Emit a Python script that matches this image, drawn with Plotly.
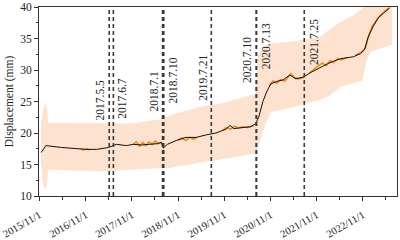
import plotly.graph_objects as go

# ---------------- data ----------------
fit_dates = ["2015-11-15", "2015-12-21", "2016-04-24", "2016-11-07", "2017-01-25", "2017-04-30",
             "2017-07-01", "2017-09-18", "2017-11-12", "2018-01-14", "2018-03-18", "2018-05-20",
             "2018-06-21", "2018-07-05", "2018-08-08", "2018-10-16", "2019-01-02", "2019-03-23",
             "2019-06-10", "2019-08-27", "2019-11-14", "2019-12-16", "2020-01-16", "2020-03-11",
             "2020-05-29", "2020-07-07", "2020-07-31", "2020-09-01", "2020-10-02", "2020-11-03",
             "2020-12-20", "2021-02-05", "2021-04-02", "2021-05-19", "2021-07-21", "2021-09-14",
             "2021-11-08", "2022-01-26", "2022-03-14", "2022-05-08", "2022-08-18", "2022-10-13",
             "2022-11-13", "2022-12-15", "2023-01-23", "2023-03-03", "2023-04-11", "2023-05-29"]
fit_disp = [16.9, 18.0, 17.7, 17.4, 17.4, 17.7,
            18.2, 18.0, 18.2, 18.1, 18.2, 18.3,
            18.5, 17.6, 18.2, 18.8, 19.3, 19.3,
            19.7, 20.0, 20.6, 21.2, 20.7, 20.8,
            21.0, 21.5, 22.6, 25.0, 26.6, 27.8,
            28.2, 28.4, 29.2, 28.6, 28.9, 29.6,
            30.2, 31.0, 31.4, 31.8, 32.1, 32.6,
            33.2, 35.4, 37.0, 38.3, 39.0, 39.8]

meas_dates = ["2016-09-20", "2016-10-15", "2016-11-05", "2016-12-01", None,
              "2017-11-10", "2017-12-05", "2018-01-01", "2018-01-25", "2018-02-20", "2018-03-15",
              "2018-04-10", "2018-05-05", "2018-05-30", "2018-06-25", None,
              "2018-11-01", "2018-12-01", "2019-01-01", "2019-02-01", "2019-03-01", "2019-03-30", None,
              "2019-10-20", "2019-11-20", "2019-12-20", "2020-01-20", "2020-02-20", "2020-03-20",
              "2020-05-01", "2020-06-20", None,
              "2020-10-20", "2020-11-20", "2020-12-20", "2021-01-20", "2021-02-20", "2021-03-20",
              "2021-04-10", "2021-05-10", "2021-06-10", "2021-07-30", None,
              "2021-09-01", "2021-10-05", "2021-11-10", "2021-12-15", "2022-01-15", "2022-02-15",
              "2022-03-15", "2022-04-15", "2022-05-15", "2022-07-01", None,
              "2022-09-01", "2022-10-10", "2022-11-20", "2022-12-10", "2023-01-10", "2023-02-05",
              "2023-03-05", "2023-04-01", "2023-05-01", "2023-05-30"]
meas_disp = [17.45, 17.3, 17.5, 17.35, None,
             18.2, 18.6, 17.9, 18.5, 18.0, 18.6,
             18.2, 18.7, 18.3, 18.6, None,
             18.9, 19.2, 18.8, 19.3, 19.0, 19.3, None,
             20.5, 20.9, 20.6, 21.1, 20.8, 21.0,
             20.9, 21.2, None,
             27.5, 28.3, 27.9, 28.5, 28.2, 29.0,
             29.4, 28.8, 28.6, 28.9, None,
             29.5, 30.1, 30.6, 31.1, 30.7, 31.5,
             31.2, 31.8, 31.6, 32.0, None,
             32.4, 32.7, 33.5, 35.0, 36.8, 37.6,
             38.4, 38.9, 39.5, 39.9]

band_dates = ["2015-11-11", "2015-11-27", "2015-12-12", "2015-12-28", "2016-01-09", "2017-03-05",
              "2017-10-27", "2018-06-18", "2018-09-05", "2019-05-01", "2019-10-05", "2020-07-07",
              "2020-07-10", "2020-07-25", "2020-08-15", "2020-09-23", "2020-11-03", "2021-04-10",
              "2021-09-14", "2021-12-01", "2022-02-17", "2022-05-08", "2022-09-03", "2022-10-28",
              "2022-11-29", "2022-12-30", "2023-06-18"]
band_upper = [21.5, 23.0, 24.8, 24.3, 21.6, 21.6,
              21.5, 22.2, 22.9, 24.2, 24.7, 26.2,
              27.5, 32.5, 33.0, 33.8, 34.2, 34.5,
              35.0, 35.3, 36.5, 37.6, 38.9, 39.8,
              40.5, 41.0, 41.0]
band_lower = [15.5, 12.0, 11.2, 11.5, 14.2, 13.9,
              14.2, 14.4, 14.5, 15.3, 15.8, 16.8,
              17.0, 17.8, 19.0, 21.5, 23.3, 24.0,
              24.8, 25.3, 26.0, 27.3, 28.0, 28.3,
              31.5, 32.9, 34.0]

event_dates = ["2017-05-05", "2017-06-07", "2018-07-01", "2018-07-10",
               "2019-07-21", "2020-07-10", "2020-07-13", "2021-07-25"]
event_labels = ["2017.5.5", "2017.6.7", "2018.7.1", "2018.7.10",
                "2019.7.21", "2020.7.10", "2020.7.13", "2021.7.25"]

tick_dates = ["2015-11-01", "2016-11-01", "2017-11-01", "2018-11-01",
              "2019-11-01", "2020-11-01", "2021-11-01", "2022-11-01"]
tick_labels = ["2015/11/1", "2016/11/1", "2017/11/1", "2018/11/1",
               "2019/11/1", "2020/11/1", "2021/11/1", "2022/11/1"]

# ---------------- layout helpers (positions, not data) ----------------
label_side = [-1, 1, -1, 1, -1, -1, 1, 1]
label_y = [25.2, 25.5, 26.7, 28.3, 28.8, 31.6, 33.7, 34.5]

FONT = "Liberation Serif"
fig = go.Figure()

fig.add_trace(go.Scatter(x=band_dates, y=band_upper, mode="lines", line=dict(width=0),
                         hoverinfo="skip", showlegend=False))
fig.add_trace(go.Scatter(x=band_dates, y=band_lower, mode="lines", line=dict(width=0),
                         fill="tonexty", fillcolor="#fde3cf",
                         hoverinfo="skip", showlegend=False))

for d in event_dates:
    fig.add_shape(type="line", xref="x", yref="paper", x0=d, x1=d, y0=0, y1=1,
                  line=dict(color="#3a3a3a", width=1.6, dash="4px,3px"), layer="above")

fig.add_trace(go.Scatter(x=meas_dates, y=meas_disp, mode="lines",
                         line=dict(color="#f28a1e", width=1.6), connectgaps=False, showlegend=False))
fig.add_trace(go.Scatter(x=fit_dates, y=fit_disp, mode="lines",
                         line=dict(color="#111111", width=1), showlegend=False))

for d, t, s, yy in zip(event_dates, event_labels, label_side, label_y):
    fig.add_annotation(x=d, y=yy, xref="x", yref="y", text=t, showarrow=False,
                       textangle=-90, xshift=s * 9,
                       font=dict(family=FONT, size=11.5, color="#222"))

fig.update_layout(
    width=400, height=240,
    margin=dict(l=39, r=3, t=7, b=44),
    plot_bgcolor="white", paper_bgcolor="white",
    font=dict(family=FONT, size=11.5, color="#222"),
    showlegend=False,
)
fig.update_xaxes(
    type="date", range=["2015-10-28", "2023-07-28"], automargin=False,
    tickmode="array", tickvals=tick_dates, ticktext=tick_labels, tickangle=-30,
    ticklabeloverflow="allow", ticklabelstandoff=4,
    ticks="outside", ticklen=4, tickcolor="#333",
    minor=dict(ticks="outside", ticklen=2.5, dtick="M6", tick0="2015-05-01", tickcolor="#333"),
    showline=True, linecolor="#333", linewidth=1, mirror=True, showgrid=False, zeroline=False,
    tickfont=dict(family=FONT, size=10.5),
)
fig.update_yaxes(
    range=[10, 40], tickmode="linear", tick0=10, dtick=5, automargin=False,
    ticklabeloverflow="allow",
    ticks="outside", ticklen=4, tickcolor="#333",
    minor=dict(ticks="outside", ticklen=2.5, dtick=2.5, tickcolor="#333"),
    showline=True, linecolor="#333", linewidth=1, mirror=True, showgrid=False, zeroline=False,
    title=dict(text="Displacement (mm)", font=dict(family=FONT, size=11.5), standoff=4),
    tickfont=dict(family=FONT, size=11.5),
)

fig.write_html("out.html", config={"displayModeBar": False},
               post_script="document.body.style.margin='0px';")
